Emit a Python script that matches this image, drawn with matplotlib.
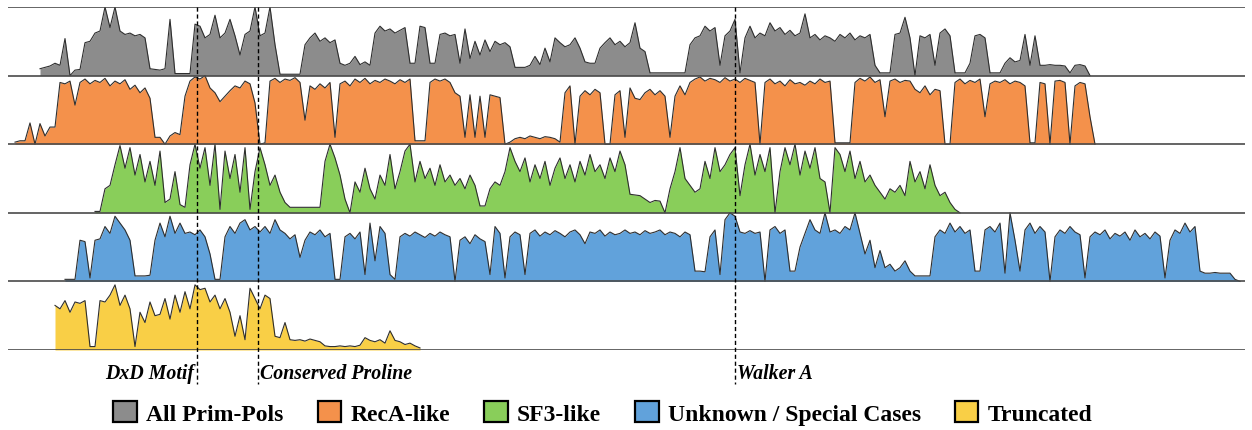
import numpy as np
import matplotlib.pyplot as plt
from matplotlib.patches import Patch

# conservation profiles along the alignment (percent of row height), one value every 5 columns
step = 5

gray_start = 40
gray = [10, 12, 14, 18, 15, 54, 0, 8, 9, 48,
        50, 62, 65, 100, 70, 100, 65, 60, 62, 58,
        60, 55, 10, 9, 8, 10, 82, 3, 3, 3,
        3, 75, 72, 55, 60, 88, 55, 62, 82, 58,
        30, 60, 65, 100, 58, 62, 100, 45, 2, 2,
        2, 2, 2, 45, 55, 62, 50, 55, 48, 52,
        18, 15, 18, 28, 16, 20, 15, 62, 72, 65,
        68, 62, 66, 70, 18, 18, 72, 70, 18, 18,
        60, 62, 58, 60, 18, 68, 25, 50, 30, 52,
        35, 50, 45, 48, 42, 12, 12, 12, 15, 28,
        16, 40, 20, 55, 48, 42, 45, 55, 40, 20,
        18, 18, 40, 48, 55, 45, 50, 42, 48, 77,
        40, 35, 4, 4, 4, 4, 4, 4, 4, 4,
        45, 55, 58, 72, 65, 70, 15, 58, 65, 82,
        4, 55, 72, 55, 62, 58, 77, 65, 70, 60,
        66, 58, 62, 90, 55, 60, 52, 58, 55, 50,
        60, 55, 62, 52, 58, 55, 60, 15, 4, 4,
        4, 60, 62, 85, 55, 0, 58, 55, 60, 15,
        62, 68, 58, 4, 4, 4, 18, 58, 60, 55,
        4, 4, 4, 18, 26, 20, 22, 60, 15, 58,
        15, 15, 16, 15, 15, 14, 4, 15, 16, 14,
        0]

orange_start = 15
orange = [3, 5, 5, 31, 0, 30, 12, 25, 25, 90,
          88, 92, 57, 90, 95, 88, 93, 90, 96, 85,
          92, 88, 94, 80, 86, 75, 82, 67, 10, 10,
          0, 12, 17, 14, 70, 92, 98, 95, 100, 82,
          75, 62, 70, 78, 85, 82, 92, 88, 60, 0,
          2, 92, 96, 90, 95, 93, 97, 90, 35, 85,
          80, 88, 82, 90, 10, 88, 92, 85, 95, 90,
          96, 88, 93, 90, 95, 92, 88, 94, 90, 95,
          5, 5, 5, 90, 95, 92, 95, 90, 75, 70,
          10, 72, 10, 70, 10, 72, 70, 68, 0, 3,
          8, 10, 8, 12, 10, 8, 11, 10, 8, 3,
          75, 85, 0, 70, 78, 72, 80, 75, 0, 0,
          72, 78, 10, 82, 67, 65, 75, 80, 72, 78,
          70, 10, 70, 85, 72, 90, 95, 98, 92, 96,
          94, 90, 97, 92, 95, 90, 96, 93, 90, 0,
          90, 95, 88, 92, 85, 94, 88, 90, 86, 92,
          88, 95, 90, 92, 2, 2, 2, 2, 90, 96,
          92, 98, 90, 94, 40, 92, 95, 90, 93, 92,
          80, 75, 85, 72, 80, 78, 0, 0, 90, 95,
          88, 93, 90, 95, 40, 88, 92, 90, 94, 88,
          92, 90, 85, 2, 2, 90, 88, 0, 92, 93,
          90, 0, 85, 90, 88, 40, 0]

green_start = 95
green = [2, 2, 35, 40, 70, 98, 65, 95, 55, 85,
         45, 75, 40, 90, 15, 20, 60, 12, 8, 70,
         100, 65, 95, 40, 100, 5, 90, 50, 85, 30,
         95, 5, 60, 95, 70, 40, 55, 30, 15, 8,
         8, 8, 8, 8, 8, 8, 75, 100, 80, 55,
         20, 0, 45, 30, 65, 35, 20, 55, 40, 85,
         35, 60, 90, 100, 45, 75, 50, 65, 40, 70,
         45, 55, 40, 50, 35, 55, 40, 10, 10, 35,
         45, 40, 60, 95, 75, 60, 80, 45, 70, 50,
         75, 40, 65, 80, 50, 70, 45, 75, 55, 85,
         60, 70, 50, 80, 60, 90, 70, 27, 26, 25,
         20, 15, 18, 17, 0, 35, 60, 95, 50, 40,
         30, 35, 75, 50, 95, 60, 70, 85, 95, 25,
         70, 100, 55, 85, 60, 95, 0, 60, 95, 70,
         100, 55, 90, 65, 95, 50, 45, 0, 95, 85,
         60, 90, 50, 75, 45, 55, 40, 30, 20, 35,
         30, 40, 25, 75, 45, 60, 35, 70, 40, 25,
         30, 15, 5, 0]

blue_start = 65
blue = [3, 3, 3, 60, 58, 5, 60, 62, 80, 70,
        95, 85, 75, 60, 8, 8, 8, 9, 60, 85,
        65, 95, 70, 85, 70, 72, 68, 75, 65, 40,
        3, 3, 65, 80, 70, 85, 90, 75, 80, 72,
        80, 70, 90, 75, 70, 62, 68, 35, 60, 72,
        68, 75, 65, 70, 3, 3, 65, 70, 62, 72,
        10, 85, 30, 80, 70, 10, 3, 65, 70, 66,
        72, 68, 64, 70, 66, 72, 68, 65, 0, 60,
        65, 55, 68, 62, 58, 10, 80, 70, 5, 65,
        72, 68, 10, 70, 75, 66, 72, 68, 74, 70,
        65, 72, 75, 68, 55, 72, 70, 75, 66, 72,
        68, 70, 75, 70, 72, 68, 74, 70, 72, 75,
        68, 72, 70, 65, 72, 68, 15, 15, 14, 65,
        75, 10, 90, 100, 95, 72, 70, 74, 70, 72,
        0, 75, 80, 70, 75, 15, 15, 50, 70, 90,
        75, 70, 100, 72, 75, 70, 80, 75, 100, 70,
        40, 60, 20, 45, 20, 25, 15, 20, 30, 15,
        8, 8, 8, 8, 65, 75, 70, 85, 72, 80,
        70, 75, 15, 15, 75, 80, 72, 85, 12, 100,
        60, 15, 75, 85, 70, 80, 72, 0, 65, 75,
        70, 80, 72, 68, 5, 65, 72, 68, 75, 62,
        70, 66, 72, 60, 75, 65, 70, 62, 72, 66,
        5, 60, 75, 70, 85, 72, 80, 15, 12, 12,
        13, 12, 12, 12, 3, 0]

yellow_start = 55
yellow = [65, 60, 72, 55, 70, 68, 72, 5, 5, 72,
          70, 80, 95, 65, 80, 60, 5, 55, 40, 70,
          50, 52, 75, 45, 80, 55, 85, 60, 95, 88,
          90, 70, 80, 60, 75, 55, 20, 50, 15, 90,
          75, 60, 80, 75, 20, 18, 40, 15, 14, 15,
          13, 16, 14, 12, 6, 5, 5, 6, 5, 6,
          5, 7, 18, 14, 12, 15, 10, 28, 14, 12,
          8, 10, 6, 3]

groups = ["All Prim-Pols", "RecA-like", "SF3-like", "Unknown / Special Cases", "Truncated"]
starts = [gray_start, orange_start, green_start, blue_start, yellow_start]
profiles = [gray, orange, green, blue, yellow]
colors = ["#8c8c8c", "#f4914b", "#89ce5a", "#61a2db", "#f9cf46"]

motif_names = ["DxD Motif", "Conserved Proline", "Walker A"]
motif_pos = [197, 258, 735]

fig = plt.figure(figsize=(12.52, 4.31), dpi=100)
ax = fig.add_axes([8 / 1252, 80 / 431, 1237 / 1252, 343 / 431])
ax.set_xlim(8, 1245)
ax.set_ylim(0, 5)
ax.axis("off")

for i in range(len(groups)):
    base = 4 - i
    x = starts[i] + step * np.arange(len(profiles[i]))
    y = base + np.array(profiles[i]) / 100
    ax.fill_between(x, base, y, color=colors[i], lw=0, zorder=2)
    ax.plot(x, y, color="#2e2e2e", lw=0.8, zorder=3)

for b in range(6):
    ax.axhline(b, color="#4a4a4a", lw=1.2, zorder=4)

serif_bi = dict(family="Liberation Serif", weight="bold", style="italic", size=14.3)
for name, p in zip(motif_names, motif_pos):
    ax.plot([p, p], [5, -0.5], color="black", lw=1, ls=(0, (3, 2)), zorder=5, clip_on=False)
    if p == motif_pos[0]:
        ax.text(p - 3, -0.34, name, ha="right", va="center", fontdict=serif_bi)
    else:
        ax.text(p + 2, -0.34, name, ha="left", va="center", fontdict=serif_bi)

handles = [Patch(facecolor=c, edgecolor="black", lw=1.6) for c in colors]
fig.legend(handles, groups, loc="center", bbox_to_anchor=(603 / 1252, 1 - 414 / 431),
           ncol=5, frameon=False, handlelength=1.0, handleheight=1.0,
           handletextpad=0.4, columnspacing=1.43,
           prop=dict(family="Liberation Serif", weight="bold", size=17))

fig.savefig("out.png", dpi=100)
